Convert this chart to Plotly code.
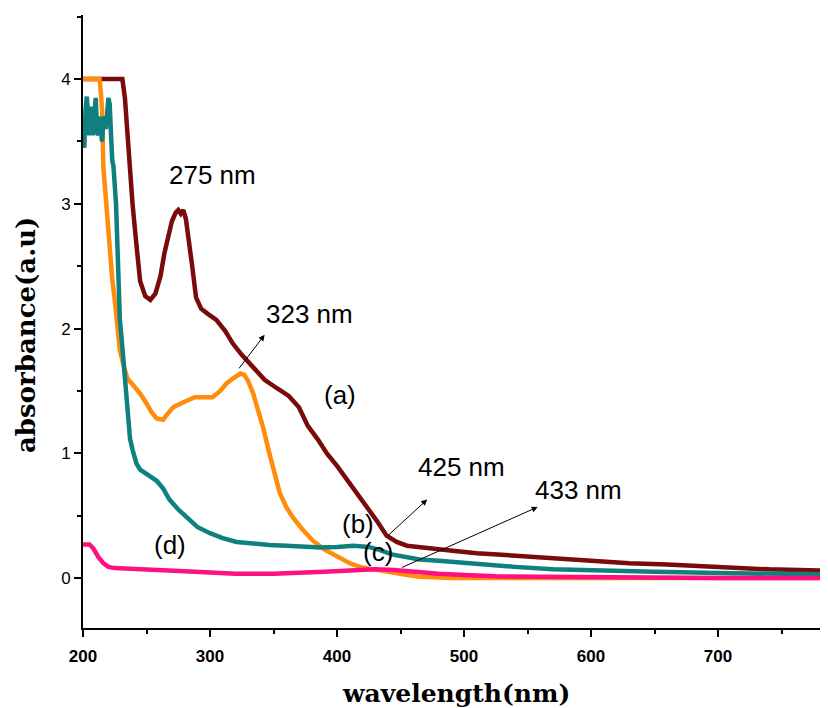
import plotly.graph_objects as go

# ---- data ----
a_wl = [200, 231, 233, 236, 239, 242, 245, 249, 253, 257, 261, 264, 267, 270, 273, 275, 277, 279, 281, 283, 286, 289, 293, 298, 305, 312, 318, 325, 334, 343, 353, 362, 370, 377, 385, 392, 400, 408, 416, 424, 432, 439, 447, 455, 470, 491, 510, 540, 570, 600, 630, 660, 700, 740, 787]
a_abs = [4.0, 4.0, 3.85, 3.4, 3.0, 2.68, 2.38, 2.26, 2.23, 2.28, 2.42, 2.6, 2.75, 2.86, 2.93, 2.95, 2.92, 2.95, 2.88, 2.75, 2.5, 2.25, 2.16, 2.12, 2.07, 1.98, 1.88, 1.79, 1.69, 1.59, 1.52, 1.46, 1.37, 1.22, 1.11, 1.0, 0.9, 0.79, 0.68, 0.57, 0.45, 0.34, 0.29, 0.26, 0.24, 0.22, 0.2, 0.18, 0.16, 0.14, 0.12, 0.11, 0.09, 0.07, 0.06]

b_wl = [200, 201, 202, 203, 204, 205, 206, 207, 208, 209, 210, 211, 212, 213, 214, 215, 216, 217, 218, 219, 220, 221, 222, 223, 224, 225, 226, 227, 228, 229, 231, 233, 235, 237, 239, 242, 245, 249, 253, 258, 263, 268, 275, 282, 290, 300, 310, 321, 335, 347, 360, 375, 387, 400, 413, 425, 434, 443, 452, 465, 480, 491, 510, 540, 570, 600, 650, 700, 787]
b_abs = [3.5, 3.45, 3.75, 3.86, 3.7, 3.55, 3.78, 3.62, 3.55, 3.72, 3.85, 3.6, 3.55, 3.7, 3.58, 3.5, 3.65, 3.7, 3.6, 3.75, 3.85, 3.8, 3.55, 3.35, 3.3, 3.15, 3.0, 2.7, 2.4, 2.08, 1.85, 1.6, 1.3, 1.12, 1.03, 0.92, 0.87, 0.84, 0.82, 0.78, 0.72, 0.63, 0.55, 0.48, 0.41, 0.36, 0.32, 0.29, 0.275, 0.265, 0.26, 0.25, 0.245, 0.25, 0.26, 0.25, 0.225, 0.19, 0.17, 0.15, 0.14, 0.13, 0.11, 0.09, 0.07, 0.06, 0.05, 0.04, 0.03]

c_wl = [200, 213, 214, 215, 216, 218, 219, 221, 223, 225, 227, 229, 232, 235, 240, 245, 250, 254, 258, 263, 267, 271, 277, 282, 288, 293, 302, 308, 313, 318, 324, 327, 330, 334, 338, 342, 346, 350, 355, 360, 365, 372, 381, 390, 400, 410, 418, 428, 439, 452, 465, 491, 600, 787]
c_abs = [4.0, 4.0, 3.9, 3.75, 3.3, 3.05, 2.9, 2.6, 2.4, 2.23, 2.0, 1.83, 1.7, 1.6, 1.54, 1.48, 1.4, 1.33, 1.28, 1.27, 1.32, 1.37, 1.4, 1.42, 1.45, 1.45, 1.45, 1.5, 1.56, 1.6, 1.64, 1.63, 1.58, 1.48, 1.35, 1.2, 1.03, 0.88, 0.68, 0.57, 0.49, 0.4, 0.3, 0.23, 0.17, 0.12, 0.09, 0.07, 0.05, 0.03, 0.01, 0.0, 0.0, 0.0]

d_wl = [200, 205, 208, 212, 216, 220, 225, 240, 260, 280, 300, 320, 350, 370, 390, 410, 430, 445, 460, 480, 500, 525, 560, 600, 700, 787]
d_abs = [0.27, 0.27, 0.24, 0.17, 0.12, 0.09, 0.08, 0.075, 0.07, 0.055, 0.045, 0.035, 0.035, 0.04, 0.05, 0.06, 0.07, 0.065, 0.05, 0.035, 0.025, 0.015, 0.01, 0.005, 0.0, 0.0]

x_ticks = [200, 300, 400, 500, 600, 700]
y_ticks = [0, 1, 2, 3, 4]

series = [
    ("(a)", a_wl, a_abs, "#7B0A0A"),
    ("(c)", c_wl, c_abs, "#FF8C0A"),
    ("(b)", b_wl, b_abs, "#0E8080"),
    ("(d)", d_wl, d_abs, "#FF1080"),
]

fig = go.Figure()
for name, xs, ys, col in series:
    fig.add_trace(go.Scatter(x=xs, y=ys, mode="lines", name=name,
                             line=dict(color=col, width=4.5), showlegend=False))

lab_font = dict(family="Liberation Sans, Arial", size=26, color="black")
anns = []
def txt(x, y, t):
    anns.append(dict(x=x, y=y, xref="x", yref="y", text=t, showarrow=False, font=lab_font))

txt(301.6, 3.23, "275 nm")
txt(378.7, 2.12, "323 nm")
txt(402, 1.47, "(a)")
txt(498, 0.89, "425 nm")
txt(590, 0.71, "433 nm")
txt(416.5, 0.43, "(b)")
txt(432, 0.21, "(c)")
txt(268.5, 0.265, "(d)")

def arrow(x0, y0, x1, y1):
    anns.append(dict(x=x1, y=y1, ax=x0, ay=y0, xref="x", yref="y", axref="x", ayref="y",
                     text="", showarrow=True, arrowhead=2, arrowsize=1.2, arrowwidth=1,
                     arrowcolor="black"))

arrow(322, 1.67, 343, 1.95)
arrow(439, 0.33, 471, 0.63)
arrow(450, 0.08, 558, 0.57)

anns.append(dict(x=0.5, y=0, xref="paper", yref="paper", yshift=-65, yanchor="middle",
                 xanchor="center", text="wavelength(nm)", showarrow=False,
                 font=dict(family="DejaVu Serif", size=25, color="black", weight="bold")))
anns.append(dict(x=0, y=0.478, xref="paper", yref="paper", xshift=-57, xanchor="center",
                 yanchor="middle", text="absorbance(a.u)", textangle=-90, showarrow=False,
                 font=dict(family="DejaVu Serif", size=26, color="black", weight="bold")))

fig.update_layout(
    width=820, height=700,
    margin=dict(l=75, r=0, t=7, b=80),
    paper_bgcolor="white", plot_bgcolor="white",
    annotations=anns,
    xaxis=dict(range=[200, 786.6], tickvals=x_ticks, ticktext=[str(v) for v in x_ticks],
               ticks="outside", ticklen=7, tickwidth=1.5, tickcolor="black",
               showline=True, linecolor="black", linewidth=2, showgrid=False, zeroline=False,
               tickfont=dict(family="Liberation Sans, Arial", size=17, color="black", weight="bold"),
               ticklabelstandoff=5,
               minor=dict(ticks="outside", ticklen=4, dtick=50, tick0=200, tickcolor="black", showgrid=False)),
    yaxis=dict(range=[-0.4, 4.514], tickvals=y_ticks, ticktext=[str(v) for v in y_ticks],
               ticks="outside", ticklen=7, tickwidth=1.5, tickcolor="black",
               showline=True, linecolor="black", linewidth=2, showgrid=False, zeroline=False,
               tickfont=dict(family="Liberation Sans, Arial", size=17, color="black"),
               minor=dict(ticks="outside", ticklen=4, dtick=0.5, tick0=0, tickcolor="black", showgrid=False)),
)

fig.write_html("out.html")
